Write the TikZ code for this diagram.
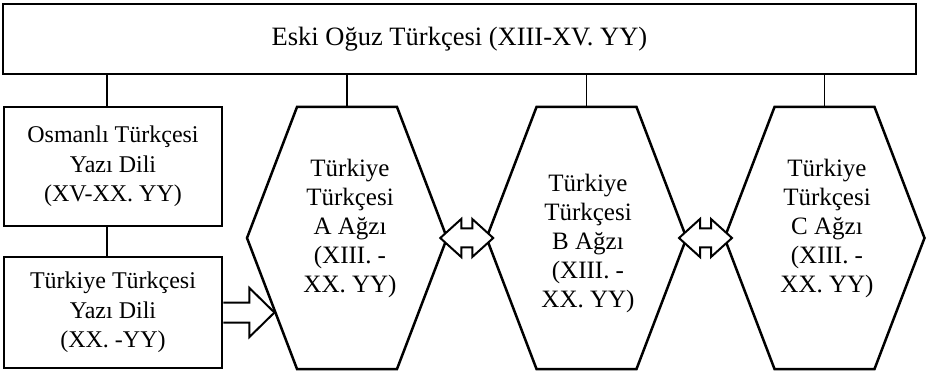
\documentclass[tikz,border=0pt]{standalone}
\usepackage{fontspec}
\setmainfont{Liberation Serif}
\usetikzlibrary{calc}

\tikzset{
  x=1pt, y=-1pt,
  boxline/.style={draw=black, line width=2.9pt, fill=white},
  hexline/.style={draw=black, line width=2.5pt, line join=miter},
  conn/.style={draw=black, line width=1.2pt},
  blockarrow/.style={draw=black, line width=2pt, fill=white, line join=miter},
  txt/.style={align=center, font=\fontsize{24}{29.5}\selectfont, inner sep=0pt},
  hextxt/.style={align=center, font=\fontsize{25}{29}\selectfont, inner sep=0pt},
  hexa/.pic={
    \coordinate (-left) at (-100,0);
    \coordinate (-right) at (100,0);
    \coordinate (-top) at (0,-131);
    \draw[hexline] (-100,0) -- (-50,-131) -- (50,-131) -- (100,0)
      -- (50,131) -- (-50,131) -- cycle;
  },
  dblarrow/.pic={
    \draw[blockarrow] (-26.5,0) -- (-5.5,-19) -- (-5.5,-9.5) -- (5.5,-9.5)
      -- (5.5,-19) -- (26.5,0) -- (5.5,19) -- (5.5,9.5) -- (-5.5,9.5)
      -- (-5.5,19) -- cycle;
  }
}

\begin{document}
\begin{tikzpicture}
\useasboundingbox (0,0) rectangle (926,371);

% top header box
\node[boxline, minimum width=913pt, minimum height=70pt, inner sep=0pt,
      font=\fontsize{26.5}{30}\selectfont] (top) at (459.5,39) {Eski Oğuz Türkçesi (XIII-XV. YY)};

% left column boxes
\node[boxline, minimum width=218pt, minimum height=119pt, txt] (osm) at (113,166.5)
  {Osmanlı Türkçesi\\Yazı Dili\\(XV-XX. YY)};
\node[boxline, minimum width=218pt, minimum height=111pt, txt] (tty) at (113,312.5)
  {Türkiye Türkçesi\\Yazı Dili\\(XX. -YY)};

% dialect hexagons
\pic (A) at (347,238) {hexa};
\pic (B) at (586.5,238) {hexa};
\pic (C) at (824.5,238) {hexa};

\node[hextxt] (tA) at (350,228) {Türkiye\\Türkçesi\\A Ağzı\\(XIII. -\\XX. YY)};
\node[hextxt] (tB) at (588,243) {Türkiye\\Türkçesi\\B Ağzı\\(XIII. -\\XX. YY)};
\node[hextxt] (tC) at (827,228) {Türkiye\\Türkçesi\\C Ağzı\\(XIII. -\\XX. YY)};

% connectors from the header and between the left boxes
\draw[conn] ([xshift=-6pt]osm.north) -- ([xshift=-6pt]osm.north |- top.south);
\draw[conn] ([xshift=-6pt]osm.south) -- ([xshift=-6pt]tty.north);
\draw[conn] (A-top) -- (A-top |- top.south);
\draw[conn] (B-top) -- (B-top |- top.south);
\draw[conn] (C-top) -- (C-top |- top.south);

% block arrow from the written language to dialect A
\draw[blockarrow] ($(tty.east)+(0,-10)$) -- ++(26,0) -- ++(0,-14.5) -- ++(25,24.5)
  -- ++(-25,24.5) -- ++(0,-14.5) -- ++(-26,0);

% double arrows between the dialects
\path ($(A-right)!0.5!(B-left)$) pic {dblarrow};
\path ($(B-right)!0.5!(C-left)$) pic {dblarrow};
\end{tikzpicture}
\end{document}
